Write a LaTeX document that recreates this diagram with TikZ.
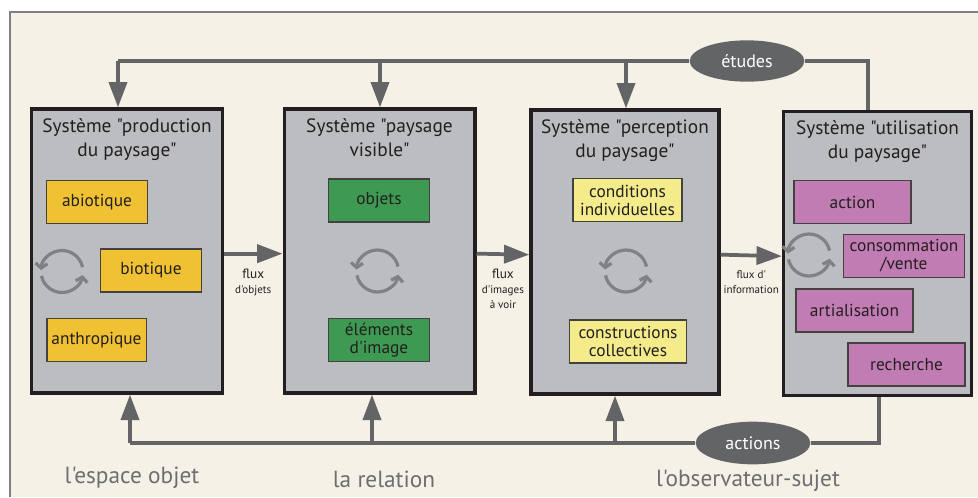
\documentclass[tikz,border=0pt]{standalone}
\usepackage{fontspec}
\setmainfont{PT Sans}[Ligatures=TeXOff]
\usetikzlibrary{arrows.meta,shapes.geometric,positioning}
\definecolor{creme}{HTML}{F5F1E6}
\definecolor{cadre}{HTML}{808080}
\definecolor{fond}{HTML}{BCBDC1}
\definecolor{fleche}{HTML}{636466}
\definecolor{roue}{HTML}{808184}
\definecolor{encre}{HTML}{231F20}
\definecolor{jaune}{HTML}{F0C233}
\definecolor{vert}{HTML}{3E9A52}
\definecolor{paille}{HTML}{F4EB8A}
\definecolor{mauve}{HTML}{C17DB3}
\definecolor{legende}{HTML}{6D6E71}
\begin{document}
\begin{tikzpicture}[x=0.75pt,y=-0.75pt,
	systeme/.style={draw=encre,line width=2.5pt,fill=fond,minimum width=143pt,minimum height=213pt,inner sep=0pt},
	titre/.style={text=encre,align=center,inner sep=0pt,font=\fontsize{14.5}{18}\selectfont},
	bloc/.style={draw=encre!85,line width=1.1pt,text=encre,align=center,minimum height=32.5pt,inner sep=1pt,font=\fontsize{13}{13.5}\selectfont},
	lien/.style={draw=fleche,line width=2.8pt},
	fl/.style={lien,-{Triangle[length=19pt,width=13.5pt]}},
	boucle/.style={draw=roue,line width=2.4pt,-{Straight Barb[length=3.5pt,width=9pt]}},
	etiq/.style={ellipse,fill=fleche,text=white,minimum width=86pt,minimum height=31pt,inner sep=0pt,font=\fontsize{13.5}{13.5}\selectfont},
	flux/.style={text=encre,align=center,inner sep=0pt,font=\fontsize{8.3}{11}\selectfont},
	lieu/.style={text=legende,inner sep=0pt,font=\fontsize{17.5}{17.5}\selectfont}]
	\useasboundingbox (0,0) rectangle (978,497);
	\fill[creme] (10,12) rectangle (978,497);
	\draw[cadre,line width=1.6pt] (10,497) |- (978,12);

	% les quatre systemes
	\node[systeme] (b1) at (127,251) {};
	\node[systeme] (b2) at (379.5,251) {};
	\node[systeme,minimum width=141pt] (b3) at (625,252) {};
	\node[systeme,minimum width=141pt] (b4) at (877.5,253.5) {};
	\node[titre,below=8pt of b1.north] (t1) {Système "production\\du paysage"};
	\node[titre,below=8pt of b2.north] (t2) {Système "paysage\\visible"};
	\node[titre,below=8pt of b3.north] (t3) {Système "perception\\du paysage"};
	\node[titre,below=8pt of b4.north] (t4) {Système "utilisation\\du paysage"};

	% composants
	\node[bloc,fill=jaune,minimum width=75.4pt] (abio) at (97,202) {abiotique};
	\node[bloc,fill=jaune,minimum width=75.4pt] (bio) at (151,270.5) {biotique};
	\node[bloc,fill=jaune,minimum width=74.6pt] (anthro) at (96.5,340) {anthropique};
	\node[bloc,fill=vert,minimum width=75.4pt] (obj) at (379,200.5) {objets};
	\node[bloc,fill=vert,minimum width=75.4pt] (elem) at (379,340) {éléments\\d'image};
	\node[bloc,fill=paille,minimum width=82pt] (cond) at (627.5,200) {conditions\\individuelles};
	\node[bloc,fill=paille,minimum width=87.4pt] (constr) at (628,341.5) {constructions\\collectives};
	\node[bloc,fill=mauve,minimum width=88pt] (act) at (852.5,202) {action};
	\node[bloc,fill=mauve,minimum width=90.4pt] (conso) at (904,256) {consommation\\/vente};
	\node[bloc,fill=mauve,minimum width=88pt] (arti) at (854.5,310.5) {artialisation};
	\node[bloc,fill=mauve,minimum width=88pt] (rech) at (906.5,364.5) {recherche};

	% cycles
	\foreach \cx/\cy in {62/271.5,377.5/271,626/271,809/255} {
		\draw[boucle] (\cx,\cy) ++(-12:21) arc[start angle=-12,end angle=-176,radius=21];
		\draw[boucle] (\cx,\cy) ++(-192:21) arc[start angle=-192,end angle=-350,radius=21];
	}

	% flux entre systemes
	\draw[fl] ([yshift=-2pt]b1.east) -- node[flux,midway,below=10pt] {{\fontsize{10}{11}\selectfont flux}\\d'objets} ([yshift=-2pt]b2.west);
	\draw[fl] ([yshift=-2pt]b2.east) -- node[flux,midway,below=10pt] {{\fontsize{10}{11}\selectfont flux}\\d'images\\à voir} ([yshift=-2pt]b3.west);
	\draw[fl] ([yshift=-2pt]b3.east) -- node[flux,midway,below=10pt] {flux d'\\information} ([yshift=-2pt]b4.west);

	% boucle du haut
	\node[etiq] (etudes) at (747,61) {études};
	\coordinate (h1) at (118,61);
	\coordinate (h2) at (380,61);
	\coordinate (h3) at (626,61);
	\coordinate (h4) at (868,61);
	\draw[lien] (etudes.west) -- (h1);
	\draw[lien] (etudes.east) -| (h4 |- b4.north);
	\draw[fl] (h1) -- (h1 |- b1.north);
	\draw[fl] (h2) -- (h2 |- b2.north);
	\draw[fl] (h3) -- (h3 |- b3.north);

	% boucle du bas
	\node[etiq,minimum height=32pt] (actions) at (753,443) {actions};
	\coordinate (k1) at (130,443);
	\coordinate (k2) at (372,443);
	\coordinate (k3) at (615,443);
	\coordinate (k4) at (879,443);
	\draw[lien] (actions.west) -- (k1);
	\draw[lien] (actions.east) -| (k4 |- b4.south);
	\draw[fl] (k1) -- (k1 |- b1.south);
	\draw[fl] (k2) -- (k2 |- b2.south);
	\draw[fl] (k3) -- (k3 |- b3.south);

	% legendes
	\node[lieu] (objet) at (132,478) {l'espace objet};
	\node[lieu] (relation) at (384,479) {la relation};
	\node[lieu] (sujet) at (748,481) {l'observateur-sujet};
\end{tikzpicture}
\end{document}
